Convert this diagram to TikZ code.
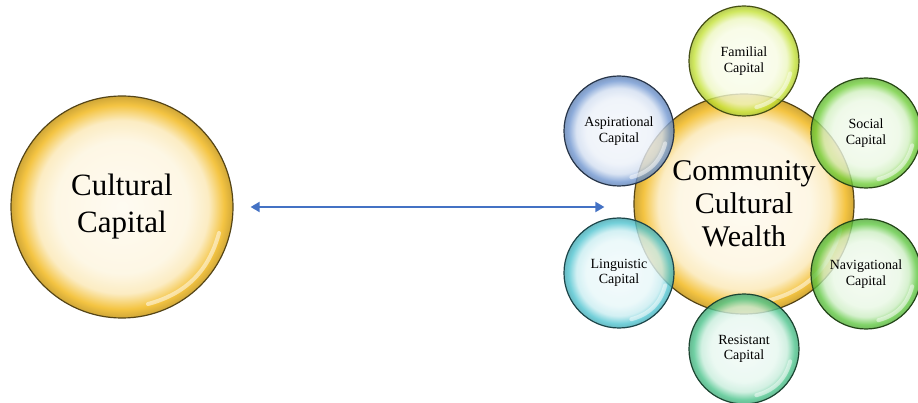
\documentclass[tikz,border=0pt]{standalone}
\usepackage{fontspec}
\setmainfont{Liberation Serif}
\usetikzlibrary{arrows.meta,calc}

\definecolor{goldrim}{RGB}{244,196,66}
\definecolor{famcol}{RGB}{196,226,54}
\definecolor{socialcol}{RGB}{112,206,58}
\definecolor{navcol}{RGB}{96,200,66}
\definecolor{resistcol}{RGB}{76,196,140}
\definecolor{lingcol}{RGB}{80,196,208}
\definecolor{aspcol}{RGB}{112,150,208}
\definecolor{arrowblue}{RGB}{68,114,196}

% glassy ball: pale middle, coloured rim (rim sits at 25bp)
\colorlet{bubcol}{white}
\pgfdeclareradialshading[bubcol]{bubble}{\pgfpoint{0bp}{0bp}}{%
  color(0bp)=(white!93!bubcol); color(15bp)=(white!86!bubcol);
  color(19.5bp)=(white!68!bubcol); color(23bp)=(bubcol);
  color(25bp)=(bubcol!85!black); color(50bp)=(bubcol!85!black)}

\begin{document}
\begin{tikzpicture}[x=1pt,y=-1pt]
	\tikzstyle{bub}=[circle,draw=#1!35!black,line width=1.2pt,inner sep=0pt,
		align=center,/utils/exec={\colorlet{bubcol}{#1}},shading=bubble]
	\tikzstyle{sat}=[minimum size=110pt,fill opacity=0.8,text opacity=1,
		font=\fontsize{14}{15.7}\selectfont]
	\tikzstyle{glint}=[white,line width=4pt,line cap=round,opacity=0.5]
	\tikzstyle{link}=[draw=arrowblue,line width=2pt,
		{Triangle[length=9pt,width=10pt]}-{Triangle[length=9pt,width=10pt]}]
	\useasboundingbox (0,0) rectangle (918,403);
	% the two big circles
	\node[bub=goldrim,minimum size=222pt,font=\fontsize{31}{37}\selectfont] (cc) at (122,207) {Cultural\\Capital};
	\node[bub=goldrim,minimum size=220pt,font=\fontsize{30}{33}\selectfont] (ccw) at (744,204) {Community\\Cultural\\Wealth};
	\draw[glint] ($(cc.center)!0.9!(cc.-15)$) to[bend left=30] ($(cc.center)!0.9!(cc.-75)$);
	\draw[glint] ($(ccw.center)!0.9!(ccw.-15)$) to[bend left=30] ($(ccw.center)!0.9!(ccw.-75)$);
	% the six capitals round the wealth
	\node[bub=famcol,sat] (familial) at (744,61) {Familial\\Capital};
	\node[bub=socialcol,sat] (social) at (866,133) {Social\\Capital};
	\node[bub=navcol,sat] (navigational) at (866,274) {Navigational\\Capital};
	\node[bub=resistcol,sat] (resistant) at (744,349) {Resistant\\Capital};
	\node[bub=lingcol,sat] (linguistic) at (619,273) {Linguistic\\Capital};
	\node[bub=aspcol,sat] (aspirational) at (619,131) {Aspirational\\Capital};
	\foreach \b in {familial,social,navigational,resistant,linguistic,aspirational}
		\draw[glint] ($(\b.center)!0.86!(\b.-15)$) to[bend left=30] ($(\b.center)!0.86!(\b.-75)$);
	\draw[link] ([xshift=17pt]cc.east) -- ([xshift=-29pt]ccw.west |- cc.east);
\end{tikzpicture}
\end{document}
